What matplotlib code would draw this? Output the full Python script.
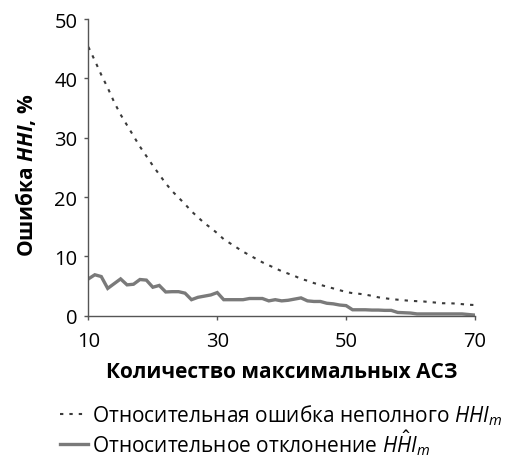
import matplotlib
matplotlib.use("Agg")
import matplotlib.pyplot as plt

plt.rcParams['font.family'] = ['Open Sans', 'DejaVu Sans']
plt.rcParams['mathtext.fontset'] = 'custom'
plt.rcParams['mathtext.rm'] = 'Open Sans'
plt.rcParams['mathtext.it'] = 'Open Sans:italic'
plt.rcParams['mathtext.bf'] = 'Open Sans:bold'
plt.rcParams['mathtext.bfit'] = 'Open Sans:bold:italic'

# Data
x_vals = list(range(10, 71))
incomplete_err = [45.3, 43.0, 40.6, 38.4, 36.0, 33.9, 32.1, 30.3, 28.5, 26.9,
                  25.3, 23.8, 22.3, 21.0, 19.9, 18.8, 17.6, 16.6, 15.6, 14.8,
                  13.9, 12.9, 12.2, 11.5, 10.8, 10.2, 9.6, 9.0, 8.5, 8.0,
                  7.5, 7.1, 6.7, 6.2, 5.9, 5.5, 5.2, 4.9, 4.6, 4.3,
                  4.0, 3.8, 3.7, 3.55, 3.35, 3.1, 2.95, 2.8, 2.7, 2.6,
                  2.5, 2.45, 2.4, 2.3, 2.2, 2.1, 2.1, 2.05, 1.95, 1.85,
                  1.8]
deviation = [6.2, 6.9, 6.6, 4.6, 5.4, 6.2, 5.2, 5.3, 6.1, 6.0,
             4.8, 5.1, 4.0, 4.05, 4.05, 3.8, 2.7, 3.1, 3.3, 3.5,
             3.9, 2.7, 2.7, 2.7, 2.7, 2.9, 2.9, 2.9, 2.5, 2.7,
             2.5, 2.6, 2.8, 3.0, 2.5, 2.4, 2.4, 2.1, 2.0, 1.8,
             1.7, 1.0, 1.0, 1.0, 0.95, 0.95, 0.9, 0.9, 0.55, 0.5,
             0.45, 0.3, 0.3, 0.3, 0.3, 0.3, 0.3, 0.3, 0.3, 0.2,
             0.1]
x_ticks = [10, 30, 50, 70]
y_ticks = [0, 10, 20, 30, 40, 50]
label_dashed = r"Относительная ошибка неполного $\mathit{HHI}_m$"
label_solid = r"Относительное отклонение $H\hat{H}I_m$"

fig = plt.figure(figsize=(5.05, 4.6), dpi=100)
ax = fig.add_axes([0.175, 0.3115, 0.7656, 0.645])

ax.plot(x_vals, incomplete_err, color='#3a3a3a', lw=1.5, dashes=(1.6, 2.9),
        label=label_dashed)
ax.plot(x_vals, deviation, color='#7a7a7a', lw=2.4, solid_joinstyle='miter',
        label=label_solid)

ax.set_xlim(10, 70)
ax.set_ylim(0, 50)
ax.set_xticks(x_ticks)
ax.set_yticks(y_ticks)
for s in ['top', 'right']:
    ax.spines[s].set_visible(False)
for s in ['left', 'bottom']:
    ax.spines[s].set_color('#555555')
    ax.spines[s].set_linewidth(1.0)
ax.tick_params(axis='both', direction='out', length=3, width=1.0,
               color='#555555', labelsize=14.5)
ax.tick_params(axis='x', pad=8)
ax.tick_params(axis='y', pad=5)

ax.set_xlabel("Количество максимальных АСЗ", fontsize=15, fontweight='bold',
              labelpad=7)
ax.set_ylabel(r"Ошибка $\mathbfit{HHI}$, %", fontsize=15, fontweight='bold')
ax.yaxis.set_label_coords(-0.13, 0.478)

fig.legend(loc='upper left', bbox_to_anchor=(60 / 505, 1 - 403 / 460), frameon=False,
           fontsize=15, handlelength=1.35, handletextpad=0.2, labelspacing=0.05,
           borderpad=0, borderaxespad=0)

fig.savefig("out.png", dpi=100)
